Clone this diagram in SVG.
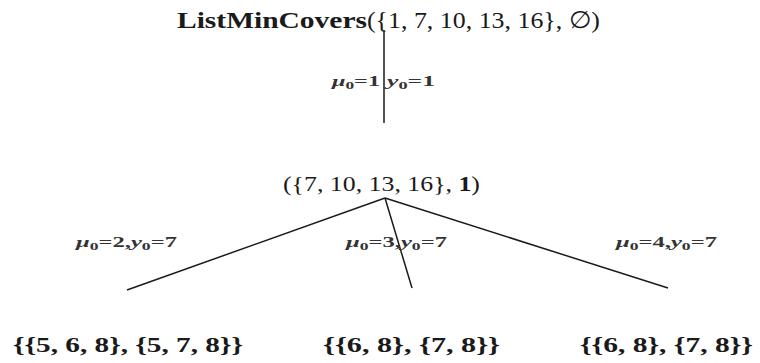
<svg xmlns="http://www.w3.org/2000/svg" width="760" height="363" viewBox="0 0 760 363">
<style>
.t{font-family:"Liberation Serif","DejaVu Serif",serif;fill:#1a1a1a}
.b{font-weight:bold}
.lbl{font-family:"Liberation Serif","DejaVu Serif",serif;font-size:14px;font-weight:bold;fill:#333}
.edge{stroke:#1a1a1a;stroke-width:1.5;fill:none}
</style>
<rect width="760" height="363" fill="#fff"/>
<g id="root">
<text class="t b" x="177" y="28" font-size="24" textLength="190" lengthAdjust="spacingAndGlyphs">ListMinCovers</text>
<text class="t" x="367" y="28" font-size="24" textLength="233" lengthAdjust="spacingAndGlyphs">({1, 7, 10, 13, 16}, ∅)</text>
</g>
<g id="node1">
<text class="t" x="283" y="191" font-size="21" textLength="197" lengthAdjust="spacingAndGlyphs">({7, 10, 13, 16}, <tspan class="b">1</tspan>)</text>
</g>
<g id="leaf1">
<text class="t b" x="13" y="352" font-size="22" textLength="230" lengthAdjust="spacingAndGlyphs">{{5, 6, 8}, {5, 7, 8}}</text>
</g>
<g id="leaf2">
<text class="t b" x="323" y="352" font-size="22" textLength="177" lengthAdjust="spacingAndGlyphs">{{6, 8}, {7, 8}}</text>
</g>
<g id="leaf3">
<text class="t b" x="580" y="352" font-size="22" textLength="173" lengthAdjust="spacingAndGlyphs">{{6, 8}, {7, 8}}</text>
</g>
<g id="connectors">
<line class="edge" x1="384" y1="30" x2="384" y2="123"/>
<line class="edge" x1="385" y1="198" x2="127" y2="290"/>
<line class="edge" x1="385" y1="198" x2="412" y2="288"/>
<line class="edge" x1="385" y1="198" x2="668" y2="288"/>
<text class="lbl" x="332" y="86" textLength="48" lengthAdjust="spacingAndGlyphs"><tspan font-style="italic">μ</tspan><tspan font-size="10" dy="3">0</tspan><tspan dy="-3">=1</tspan></text>
<text class="lbl" x="387" y="86" textLength="48" lengthAdjust="spacingAndGlyphs"><tspan font-style="italic">y</tspan><tspan font-size="10" dy="3">0</tspan><tspan dy="-3">=1</tspan></text>
<text class="lbl" x="76" y="247" textLength="101" lengthAdjust="spacingAndGlyphs"><tspan font-style="italic">μ</tspan><tspan font-size="10" dy="3">0</tspan><tspan dy="-3">=2,</tspan><tspan font-style="italic">y</tspan><tspan font-size="10" dy="3">0</tspan><tspan dy="-3">=7</tspan></text>
<text class="lbl" x="346" y="247" textLength="101" lengthAdjust="spacingAndGlyphs"><tspan font-style="italic">μ</tspan><tspan font-size="10" dy="3">0</tspan><tspan dy="-3">=3,</tspan><tspan font-style="italic">y</tspan><tspan font-size="10" dy="3">0</tspan><tspan dy="-3">=7</tspan></text>
<text class="lbl" x="616" y="247" textLength="101" lengthAdjust="spacingAndGlyphs"><tspan font-style="italic">μ</tspan><tspan font-size="10" dy="3">0</tspan><tspan dy="-3">=4,</tspan><tspan font-style="italic">y</tspan><tspan font-size="10" dy="3">0</tspan><tspan dy="-3">=7</tspan></text>
</g>
</svg>
